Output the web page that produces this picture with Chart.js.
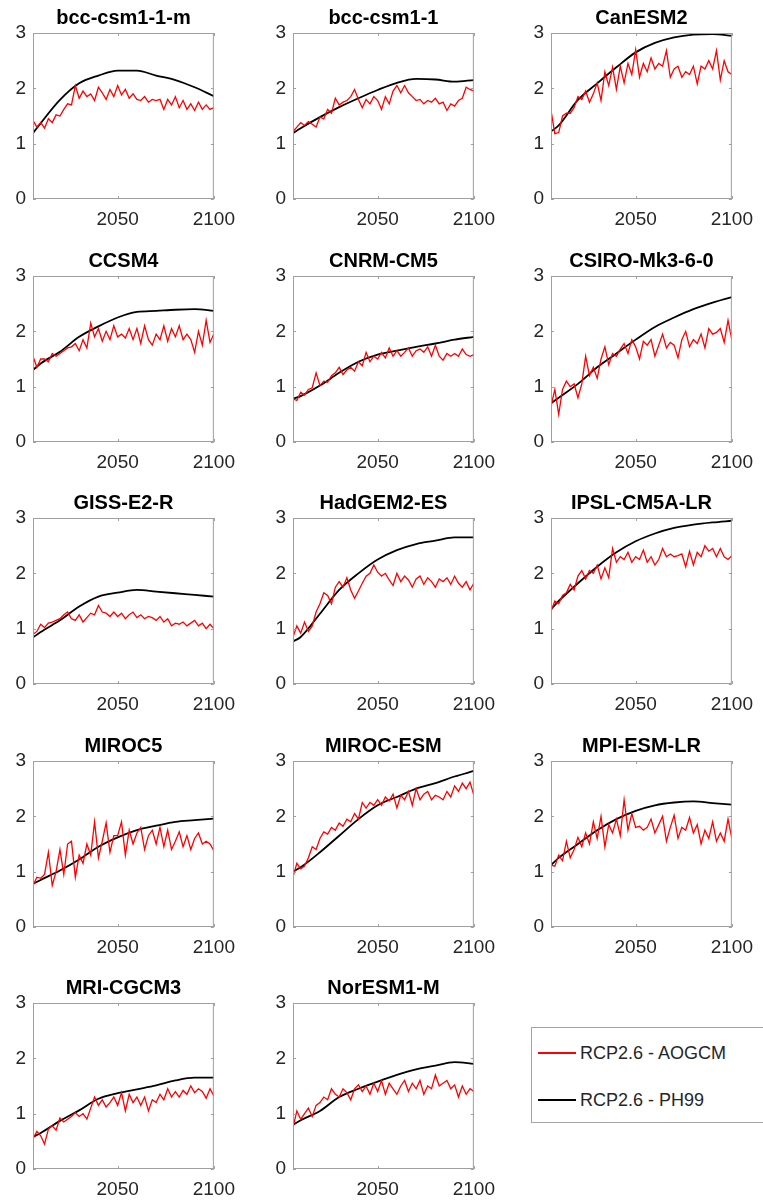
<!DOCTYPE html>
<html>
<head>
<meta charset="utf-8">
<title>RCP2.6 AOGCM vs PH99</title>
<script src="https://cdn.jsdelivr.net/npm/chart.js@4.4.1/dist/chart.umd.min.js"></script>
<style>
  body { margin: 0; background: #fff; width: 763px; height: 1203px; position: relative; overflow: hidden;
         font-family: "Liberation Sans", Arial, sans-serif; }
  .panel { position: absolute; width: 244px; height: 228px; }
  #legend { position: absolute; left: 531px; top: 1027px; width: 245px; height: 96px;
            border: 1.5px solid #a3a3a3; box-sizing: border-box; }
  .item { position: absolute; left: 6px; height: 20px; line-height: 20px; font-size: 18px; color: #262626; white-space: nowrap; }
  .swatch { display: inline-block; width: 38px; height: 2px; vertical-align: middle; margin-right: 4px; margin-top: -2px; }
</style>
</head>
<body>
<div id="legend"></div>
<script>
const seriesLabels = ['RCP2.6 - AOGCM', 'RCP2.6 - PH99'];
const seriesColors = ['#ff0000', '#000000'];

const models = ['bcc-csm1-1-m', 'bcc-csm1-1', 'CanESM2', 'CCSM4', 'CNRM-CM5', 'CSIRO-Mk3-6-0', 'GISS-E2-R',
  'HadGEM2-ES', 'IPSL-CM5A-LR', 'MIROC5', 'MIROC-ESM', 'MPI-ESM-LR', 'MRI-CGCM3', 'NorESM1-M'];

const xTicks = [2050, 2100];
const yTicks = [0, 1, 2, 3];

// years of the AOGCM samples (every second year) and of the PH99 curve
const aogcmYears = [2006, 2008, 2010, 2012, 2014, 2016, 2018, 2020, 2022, 2024, 2026, 2028, 2030, 2032, 2034, 2036,
  2038, 2040, 2042, 2044, 2046, 2048, 2050, 2052, 2054, 2056, 2058, 2060, 2062, 2064, 2066, 2068, 2070, 2072, 2074,
  2076, 2078, 2080, 2082, 2084, 2086, 2088, 2090, 2092, 2094, 2096, 2098, 2100];
const ph99Years = [2006, 2010, 2020, 2030, 2040, 2050, 2060, 2070, 2080, 2090, 2100];

const aogcmBccCsm11m = [1.42, 1.30, 1.38, 1.28, 1.45, 1.38, 1.52, 1.50, 1.62, 1.72, 1.70, 2.05, 1.82, 1.95, 1.85, 1.90,
  1.78, 2.02, 1.92, 1.80, 1.98, 1.85, 2.05, 1.88, 1.98, 1.82, 1.90, 1.80, 1.78, 1.85, 1.75, 1.80, 1.78, 1.80, 1.62,
  1.80, 1.70, 1.85, 1.65, 1.78, 1.62, 1.72, 1.60, 1.75, 1.62, 1.70, 1.62, 1.65];
const ph99BccCsm11m = [1.19, 1.37, 1.79, 2.09, 2.23, 2.32, 2.32, 2.23, 2.15, 2.02, 1.86];

const aogcmBccCsm11 = [1.22, 1.30, 1.38, 1.33, 1.40, 1.35, 1.30, 1.48, 1.45, 1.62, 1.55, 1.82, 1.70, 1.75, 1.78, 1.85,
  1.98, 1.80, 1.65, 1.80, 1.72, 1.85, 1.78, 1.62, 1.85, 1.72, 1.95, 2.05, 1.92, 2.05, 1.92, 1.85, 1.78, 1.80, 1.72,
  1.78, 1.75, 1.82, 1.72, 1.75, 1.60, 1.72, 1.68, 1.78, 1.82, 2.02, 1.98, 1.95];
const ph99BccCsm11 = [1.19, 1.28, 1.48, 1.66, 1.82, 1.97, 2.10, 2.17, 2.16, 2.12, 2.15];

const aogcmCanESM2 = [1.60, 1.18, 1.20, 1.50, 1.55, 1.55, 1.65, 1.85, 1.80, 1.95, 1.75, 1.90, 2.10, 1.78, 2.30, 2.05,
  2.38, 1.98, 2.40, 2.10, 2.45, 2.25, 2.70, 2.20, 2.45, 2.30, 2.55, 2.35, 2.45, 2.40, 2.68, 2.20, 2.35, 2.40, 2.20,
  2.30, 2.25, 2.40, 2.08, 2.40, 2.35, 2.50, 2.35, 2.68, 2.15, 2.50, 2.30, 2.25];
const ph99CanESM2 = [1.22, 1.33, 1.79, 2.09, 2.38, 2.65, 2.82, 2.92, 2.97, 2.98, 2.95];

const aogcmCCSM4 = [1.55, 1.35, 1.50, 1.50, 1.45, 1.60, 1.55, 1.60, 1.65, 1.70, 1.72, 1.78, 1.65, 1.85, 1.70, 2.15,
  1.90, 2.05, 1.82, 2.00, 1.85, 2.10, 1.90, 1.95, 1.88, 2.05, 1.85, 2.05, 1.78, 2.10, 1.85, 1.75, 1.95, 1.85, 2.10,
  1.82, 2.05, 1.90, 2.10, 1.85, 1.95, 1.85, 1.62, 2.00, 1.75, 2.20, 1.80, 1.95];
const ph99CCSM4 = [1.30, 1.42, 1.63, 1.90, 2.09, 2.25, 2.35, 2.37, 2.39, 2.40, 2.37];

const aogcmCNRMCM5 = [0.78, 0.75, 0.90, 0.85, 0.95, 0.98, 1.25, 1.02, 1.10, 1.08, 1.20, 1.25, 1.35, 1.22, 1.30, 1.35,
  1.28, 1.45, 1.38, 1.62, 1.45, 1.55, 1.50, 1.62, 1.52, 1.70, 1.55, 1.65, 1.55, 1.62, 1.70, 1.55, 1.65, 1.68, 1.62,
  1.72, 1.55, 1.75, 1.55, 1.48, 1.60, 1.55, 1.60, 1.55, 1.68, 1.58, 1.55, 1.58];
const ph99CNRMCM5 = [0.78, 0.83, 1.02, 1.25, 1.45, 1.58, 1.65, 1.72, 1.78, 1.85, 1.90];

const aogcmCSIRO = [0.65, 0.95, 0.50, 0.95, 1.10, 1.00, 1.05, 0.80, 1.05, 1.55, 1.20, 1.35, 1.15, 1.50, 1.72, 1.40,
  1.60, 1.55, 1.68, 1.78, 1.60, 1.85, 1.72, 1.50, 1.82, 1.75, 1.85, 1.55, 1.75, 1.95, 1.70, 1.80, 1.75, 1.52, 1.85,
  2.00, 1.72, 1.85, 1.78, 1.95, 1.70, 2.05, 1.95, 1.98, 2.05, 1.80, 2.20, 1.85];
const ph99CSIRO = [0.70, 0.80, 1.05, 1.35, 1.60, 1.85, 2.08, 2.25, 2.40, 2.52, 2.62];

const aogcmGISSE2R = [0.90, 0.95, 1.08, 1.02, 1.10, 1.12, 1.15, 1.18, 1.25, 1.30, 1.18, 1.15, 1.25, 1.12, 1.20, 1.28,
  1.25, 1.42, 1.30, 1.28, 1.22, 1.30, 1.22, 1.28, 1.18, 1.25, 1.30, 1.20, 1.25, 1.18, 1.22, 1.20, 1.15, 1.22, 1.12,
  1.18, 1.05, 1.10, 1.08, 1.12, 1.05, 1.10, 1.15, 1.05, 1.10, 1.00, 1.08, 1.00];
const ph99GISSE2R = [0.84, 0.94, 1.15, 1.40, 1.58, 1.65, 1.70, 1.67, 1.64, 1.61, 1.58];

const aogcmHadGEM2ES = [0.85, 1.05, 0.92, 1.12, 0.95, 1.05, 1.30, 1.45, 1.65, 1.60, 1.45, 1.75, 1.85, 1.75, 1.92, 1.70,
  1.55, 1.68, 1.82, 1.95, 2.00, 2.15, 2.02, 1.95, 2.00, 1.88, 1.78, 2.00, 1.85, 1.95, 1.88, 1.75, 1.90, 1.95, 1.80,
  1.92, 1.85, 1.75, 1.90, 1.85, 1.92, 1.80, 1.95, 1.82, 1.75, 1.85, 1.70, 1.82];
const ph99HadGEM2ES = [0.77, 0.85, 1.27, 1.70, 2.00, 2.25, 2.42, 2.53, 2.59, 2.65, 2.65];

const aogcmIPSL = [1.32, 1.50, 1.45, 1.60, 1.65, 1.80, 1.70, 1.95, 2.05, 1.90, 2.05, 2.00, 2.15, 1.90, 2.10, 1.92,
  2.45, 2.20, 2.30, 2.25, 2.38, 2.20, 2.30, 2.25, 2.42, 2.20, 2.30, 2.15, 2.25, 2.45, 2.30, 2.35, 2.30, 2.32, 2.35,
  2.12, 2.40, 2.15, 2.38, 2.30, 2.50, 2.40, 2.45, 2.30, 2.45, 2.30, 2.25, 2.32];
const ph99IPSL = [1.35, 1.50, 1.82, 2.12, 2.38, 2.58, 2.72, 2.82, 2.88, 2.92, 2.95];

const aogcmMIROC5 = [0.75, 0.90, 0.88, 0.95, 1.35, 0.75, 1.00, 1.40, 0.95, 1.50, 1.55, 0.90, 1.30, 1.15, 1.50, 1.30,
  1.90, 1.25, 1.55, 1.88, 1.35, 1.65, 1.65, 1.90, 1.30, 1.75, 1.50, 1.70, 1.80, 1.40, 1.65, 1.75, 1.50, 1.80, 1.45,
  1.75, 1.40, 1.55, 1.72, 1.45, 1.65, 1.40, 1.60, 1.70, 1.50, 1.55, 1.50, 1.38];
const ph99MIROC5 = [0.78, 0.85, 1.02, 1.22, 1.45, 1.62, 1.75, 1.83, 1.90, 1.93, 1.96];

const aogcmMIROCESM = [0.90, 1.15, 1.05, 1.10, 1.25, 1.45, 1.40, 1.60, 1.72, 1.68, 1.80, 1.75, 1.88, 1.82, 1.95, 1.90,
  2.05, 1.95, 2.25, 2.15, 2.25, 2.20, 2.30, 2.20, 2.35, 2.28, 2.40, 2.15, 2.38, 2.30, 2.45, 2.20, 2.50, 2.30, 2.40,
  2.45, 2.30, 2.38, 2.35, 2.30, 2.45, 2.35, 2.55, 2.45, 2.60, 2.50, 2.62, 2.38];
const ph99MIROCESM = [1.00, 1.08, 1.35, 1.65, 1.95, 2.20, 2.35, 2.50, 2.60, 2.72, 2.82];

const aogcmMPIESMLR = [1.12, 1.10, 1.30, 1.20, 1.55, 1.25, 1.40, 1.62, 1.45, 1.70, 1.50, 1.90, 1.60, 2.00, 1.45, 1.85,
  1.70, 1.95, 1.65, 2.30, 1.75, 2.05, 1.80, 1.82, 1.75, 1.80, 1.95, 1.70, 1.85, 2.00, 1.55, 1.80, 2.02, 1.60, 1.80,
  1.75, 1.98, 1.70, 1.85, 1.50, 1.75, 1.60, 1.90, 1.55, 1.70, 1.55, 1.95, 1.60];
const ph99MPIESMLR = [1.12, 1.25, 1.50, 1.75, 1.95, 2.10, 2.20, 2.25, 2.27, 2.24, 2.21];

const aogcmMRICGCM3 = [0.55, 0.68, 0.60, 0.45, 0.72, 0.78, 0.70, 0.92, 0.85, 0.90, 0.95, 1.02, 0.95, 1.00, 0.90, 1.10,
  1.30, 1.15, 1.25, 1.12, 1.20, 1.30, 1.15, 1.38, 1.05, 1.35, 1.20, 1.30, 1.15, 1.30, 1.05, 1.25, 1.20, 1.35, 1.25,
  1.45, 1.30, 1.40, 1.30, 1.42, 1.35, 1.50, 1.38, 1.45, 1.40, 1.28, 1.45, 1.32];
const ph99MRICGCM3 = [0.58, 0.65, 0.87, 1.06, 1.27, 1.37, 1.44, 1.51, 1.60, 1.65, 1.65];

const aogcmNorESM1M = [0.75, 1.05, 0.90, 1.00, 1.10, 0.95, 1.15, 1.20, 1.30, 1.25, 1.45, 1.35, 1.30, 1.45, 1.38, 1.25,
  1.45, 1.52, 1.40, 1.50, 1.35, 1.55, 1.40, 1.60, 1.35, 1.55, 1.45, 1.35, 1.50, 1.60, 1.40, 1.55, 1.45, 1.60, 1.35,
  1.50, 1.45, 1.70, 1.50, 1.55, 1.60, 1.45, 1.52, 1.30, 1.50, 1.35, 1.45, 1.40];
const ph99NorESM1M = [0.80, 0.88, 1.05, 1.30, 1.45, 1.58, 1.70, 1.80, 1.87, 1.93, 1.90];

const aogcmSeries = [aogcmBccCsm11m, aogcmBccCsm11, aogcmCanESM2, aogcmCCSM4, aogcmCNRMCM5, aogcmCSIRO, aogcmGISSE2R,
  aogcmHadGEM2ES, aogcmIPSL, aogcmMIROC5, aogcmMIROCESM, aogcmMPIESMLR, aogcmMRICGCM3, aogcmNorESM1M];
const ph99Series = [ph99BccCsm11m, ph99BccCsm11, ph99CanESM2, ph99CCSM4, ph99CNRMCM5, ph99CSIRO, ph99GISSE2R,
  ph99HadGEM2ES, ph99IPSL, ph99MIROC5, ph99MIROCESM, ph99MPIESMLR, ph99MRICGCM3, ph99NorESM1M];

const FONT = '"Liberation Sans", Arial, sans-serif';
const plotLefts = [33, 293, 551];
const AXIS_W = 33, TITLE_H = 26, PAD_R = 26;

// MATLAB style box with inward ticks
const boxPlugin = {
  id: 'matlabBox',
  afterDatasetsDraw(chart) {
    const { ctx, chartArea: a, scales: { x, y } } = chart;
    ctx.save();
    ctx.strokeStyle = '#a0a0a0';
    ctx.lineWidth = 1;
    ctx.strokeRect(a.left + 0.5, a.top + 0.5, a.right - a.left - 1, a.bottom - a.top - 1);
    ctx.beginPath();
    y.ticks.forEach(t => {
      const py = Math.round(y.getPixelForValue(t.value)) + 0.5;
      ctx.moveTo(a.left, py); ctx.lineTo(a.left + 3, py);
      ctx.moveTo(a.right, py); ctx.lineTo(a.right - 3, py);
    });
    x.ticks.forEach(t => {
      const px = Math.round(x.getPixelForValue(t.value)) + 0.5;
      ctx.moveTo(px, a.bottom); ctx.lineTo(px, a.bottom - 3);
      ctx.moveTo(px, a.top); ctx.lineTo(px, a.top + 3);
    });
    ctx.stroke();
    ctx.restore();
  }
};

models.forEach((name, i) => {
  const col = i % 3, row = Math.floor(i / 3);
  const div = document.createElement('div');
  div.className = 'panel';
  div.style.left = (plotLefts[col] - AXIS_W) + 'px';
  div.style.top = (33 + 242.5 * row - TITLE_H) + 'px';
  const canvas = document.createElement('canvas');
  div.appendChild(canvas);
  document.body.appendChild(div);

  new Chart(canvas, {
    type: 'line',
    data: {
      datasets: [
        {
          label: seriesLabels[0],
          data: aogcmYears.map((yr, k) => ({ x: yr, y: aogcmSeries[i][k] })),
          borderColor: seriesColors[0],
          borderWidth: 1.3,
          pointRadius: 0,
          tension: 0,
        },
        {
          label: seriesLabels[1],
          data: ph99Years.map((yr, k) => ({ x: yr, y: ph99Series[i][k] })),
          borderColor: seriesColors[1],
          borderWidth: 1.8,
          pointRadius: 0,
          cubicInterpolationMode: 'monotone',
        },
      ],
    },
    options: {
      responsive: true,
      maintainAspectRatio: false,
      animation: false,
      layout: { padding: { left: 0, right: PAD_R, top: 0, bottom: 0 } },
      plugins: {
        legend: { display: false },
        tooltip: { enabled: false },
        title: {
          display: true,
          fullSize: false,
          text: name,
          color: '#000',
          font: { family: FONT, size: 20, weight: 'bold', lineHeight: '22px' },
          padding: { top: 0, bottom: 4 },
        },
      },
      scales: {
        x: {
          type: 'linear',
          min: 2006,
          max: 2100,
          grid: { display: false, drawTicks: false },
          border: { display: false },
          afterBuildTicks: s => { s.ticks = xTicks.map(v => ({ value: v })); },
          afterFit: s => { s.height = 36; },
          ticks: {
            padding: 9, color: '#262626', maxRotation: 0, autoSkip: false,
            font: { family: FONT, size: 19 },
            callback: v => String(v),
          },
        },
        y: {
          type: 'linear',
          min: 0,
          max: 3,
          grid: { display: false, drawTicks: false },
          border: { display: false },
          afterBuildTicks: s => { s.ticks = yTicks.map(v => ({ value: v })); },
          afterFit: s => { s.width = AXIS_W; },
          ticks: { padding: 7, color: '#262626', font: { family: FONT, size: 19 } },
        },
      },
    },
    plugins: [boxPlugin],
  });
});

// legend box, bottom right
const legend = document.getElementById('legend');
seriesLabels.forEach((lab, k) => {
  const item = document.createElement('div');
  item.className = 'item';
  item.style.top = (15 + 47 * k) + 'px';
  const sw = document.createElement('span');
  sw.className = 'swatch';
  sw.style.backgroundColor = seriesColors[k];
  item.appendChild(sw);
  item.appendChild(document.createTextNode(lab));
  legend.appendChild(item);
});
</script>
</body>
</html>
